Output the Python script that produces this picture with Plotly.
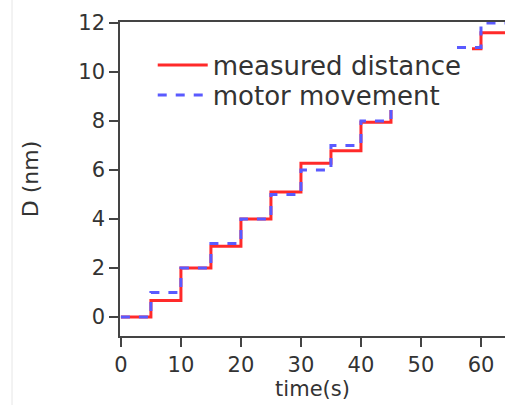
import plotly.graph_objects as go

# measured distance (red, solid) - step values, with a data gap
meas_t = [0, 5, 10, 15, 20, 25, 30, 35, 40, 45, None, 58.5, 60, 64]
meas_d = [0, 0.67, 2.0, 2.88, 4.0, 5.1, 6.27, 6.78, 7.95, 8.45, None, 10.95, 11.6, 11.6]

# motor movement (blue, dashed)
motor_t = [0, 5, 10, 15, 20, 25, 30, 35, 40, 45, None, 56, 60, 64]
motor_d = [0, 1.0, 2.0, 3.0, 4.0, 5.0, 6.0, 7.0, 8.0, 8.45, None, 11.0, 12.0, 12.0]

x_ticks = [0, 10, 20, 30, 40, 50, 60]
y_ticks = [0, 2, 4, 6, 8, 10, 12]

font_family = "DejaVu Sans"

fig = go.Figure()
fig.add_trace(go.Scatter(
    x=meas_t, y=meas_d, mode="lines", name="measured distance",
    line=dict(color="#ff2a2a", width=3, shape="hv"), connectgaps=False,
    legend="legend",
))
fig.add_trace(go.Scatter(
    x=motor_t, y=motor_d, mode="lines", name="motor movement",
    line=dict(color="#5a5aff", width=3, shape="hv", dash="dash"), connectgaps=False,
    legend="legend2",
))

axis_common = dict(
    showline=True, linecolor="#444", linewidth=1.5,
    ticks="outside", ticklen=9, tickwidth=1.5, tickcolor="#444",
    showgrid=False, zeroline=False,
    tickfont=dict(family=font_family, size=21, color="#333"),
)

legend_common = dict(x=0.085, xanchor="left", yanchor="middle",
                     bgcolor="rgba(0,0,0,0)", font=dict(size=26, color="#333"),
                     itemwidth=50)

fig.update_layout(
    width=505, height=405,
    margin=dict(l=120, r=0, t=22, b=69),
    paper_bgcolor="white", plot_bgcolor="white",
    font=dict(family=font_family, color="#333"),
    xaxis=dict(range=[-0.15, 64], tickvals=x_ticks, mirror=True,
               title=dict(text="time(s)", font=dict(size=21), standoff=2),
               **axis_common),
    yaxis=dict(range=[-0.78, 12.04], tickvals=y_ticks,
               title=dict(text="D (nm)", font=dict(size=22), standoff=34),
               **axis_common),
    legend=dict(y=1 - (65 - 22) / 314, **legend_common),
    legend2=dict(y=1 - (95 - 22) / 314, **legend_common),
    showlegend=True,
    shapes=[dict(type="line", xref="paper", yref="paper",
                 x0=(12 - 120) / 385, x1=(12 - 120) / 385,
                 y0=-69 / 314, y1=1 + 22 / 314,
                 line=dict(color="#e6e6e6", width=1))],
)

fig.write_html("out.html")
